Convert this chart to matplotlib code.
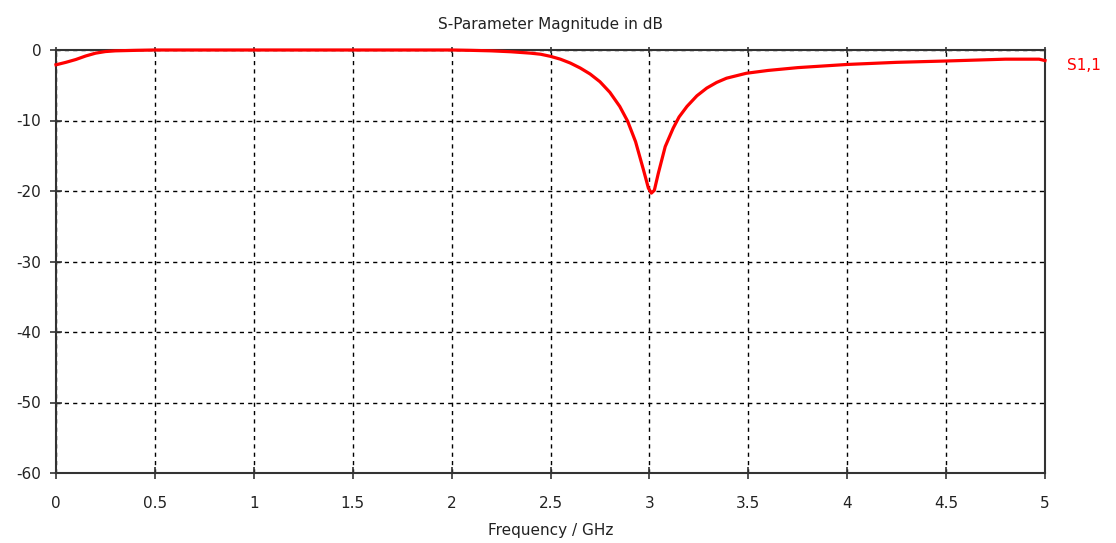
import matplotlib
matplotlib.use("Agg")
import matplotlib.pyplot as plt

freq_ghz = [0, 0.05, 0.1, 0.15, 0.2, 0.25, 0.3, 0.4, 0.5, 1.0, 1.5, 2.0, 2.1, 2.2,
            2.3, 2.4, 2.45, 2.5, 2.55, 2.6, 2.65, 2.7, 2.75, 2.8, 2.85, 2.89, 2.93,
            2.97, 2.995, 3.01, 3.025, 3.045, 3.08, 3.12, 3.15, 3.19, 3.24, 3.29, 3.34,
            3.39, 3.49, 3.6, 3.75, 4.0, 4.25, 4.5, 4.8, 4.97, 5.0]
s11_db = [-2.1, -1.75, -1.35, -0.85, -0.45, -0.22, -0.12, -0.05, 0, 0, 0, 0, -0.05, -0.12,
          -0.25, -0.45, -0.6, -0.9, -1.3, -1.85, -2.55, -3.4, -4.5, -6.0, -8.0, -10.1, -13.0,
          -17.0, -19.6, -20.3, -19.9, -17.5, -13.7, -11.1, -9.5, -8.0, -6.5, -5.4, -4.6,
          -4.0, -3.3, -2.9, -2.5, -2.05, -1.75, -1.56, -1.3, -1.3, -1.5]
x_ticks = [0, 0.5, 1, 1.5, 2, 2.5, 3, 3.5, 4, 4.5, 5]
x_tick_labels = ["0", "0.5", "1", "1.5", "2", "2.5", "3", "3.5", "4", "4.5", "5"]
y_ticks = [0, -10, -20, -30, -40, -50, -60]
y_tick_labels = ["0", "-10", "-20", "-30", "-40", "-50", "-60"]

plt.rcParams['font.family'] = ['DejaVu Sans']
fig = plt.figure(figsize=(11.16, 5.43), dpi=100)
ax = fig.add_axes([56/1116, 1 - 473/543, (1045 - 56)/1116, (473 - 50)/543])

ax.plot(freq_ghz, s11_db, color='red', lw=2.3, zorder=3, clip_on=False)
ax.set_xlim(0, 5)
ax.set_ylim(-60, 0)
ax.set_xticks(x_ticks)
ax.set_xticklabels(x_tick_labels)
ax.set_yticks(y_ticks)
ax.set_yticklabels(y_tick_labels)
ax.grid(True, color='black', linestyle=(0, (3, 3)), lw=1.0)
for s in ax.spines.values():
    s.set_color('#333333')
    s.set_linewidth(1.5)
ax.tick_params(direction='inout', length=9, width=1.2, color='#333333',
               labelsize=11, labelcolor='#222222')
ax.tick_params(axis='x', pad=12)
ax.tick_params(axis='y', pad=6)
ax.xaxis.set_tick_params(which='major', top=True)
for t in ax.xaxis.get_major_ticks():
    t.tick2line.set_markersize(4)
ax.set_xlabel("Frequency / GHz", fontsize=11, color='#222222', labelpad=9)
ax.set_title("S-Parameter Magnitude in dB", fontsize=11, color='#222222', pad=15)
ax.text(1.022, 0.963, "S1,1", transform=ax.transAxes, color='red', fontsize=11,
        ha='left', va='center')

fig.savefig("out.png", dpi=100)
